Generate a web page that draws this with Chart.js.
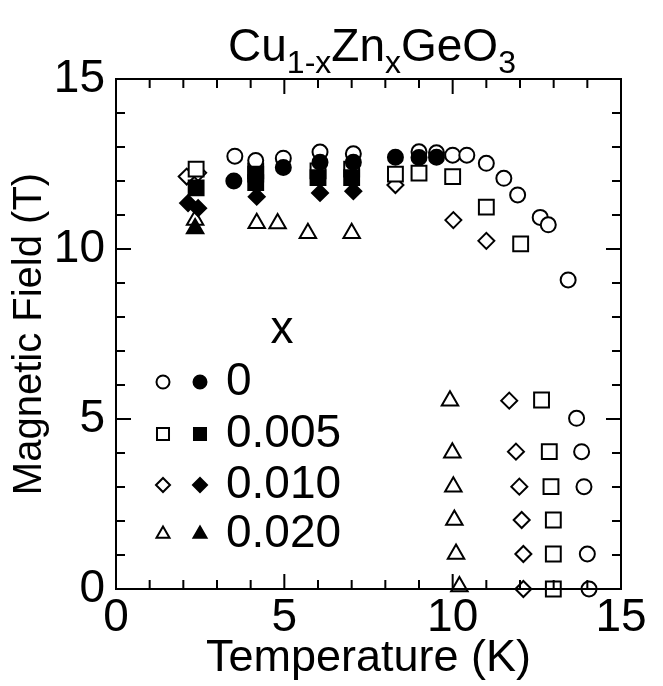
<!DOCTYPE html>
<html>
<head>
<meta charset="utf-8">
<script src="https://cdn.jsdelivr.net/npm/chart.js@4.4.1/dist/chart.umd.min.js"></script>
<style>
  html, body { margin: 0; padding: 0; background: #fff; }
</style>
</head>
<body>
<canvas id="myChart" width="663" height="686"></canvas>
<script>
const FONT = "'Liberation Sans', Arial, sans-serif";

// axis ranges / tick labels
const xTickStep = 5;
const yTickStep = 5;
const xRange = [0, 15];
const yRange = [0, 15];

// concentrations x (legend) and their symbols
const concentrations = ['0', '0.005', '0.010', '0.020'];
const symbols = ['circle', 'rect', 'rectRot', 'triangle'];

// [T (K), H (T)]
// x = 0
const openCircle = [[3.53,12.73],[4.15,12.6],[4.97,12.67],[6.06,12.85],[7.05,12.8],[9.0,12.86],[9.52,12.83],
  [10.0,12.76],[10.42,12.76],[11.0,12.52],[11.52,12.08],[11.93,11.59],[12.6,10.93],[12.84,10.71],[13.43,9.09],
  [13.68,5.02],[13.83,4.04],[13.9,3.01],[14.0,1.03],[14.05,0]];
const filledCircle = [[3.5,12.0],[4.97,12.4],[6.06,12.55],[7.05,12.55],[8.3,12.7],[9.0,12.69],[9.52,12.7]];
// x = 0.005
const openSquare = [[2.38,12.35],[4.15,12.3],[6.0,12.3],[7.0,12.35],[8.3,12.2],[9.0,12.23],[10.0,12.13],[11.0,11.23],
  [12.02,10.15],[12.64,5.56],[12.87,4.04],[12.92,3.01],[12.99,2.03],[12.99,1.03],[12.99,0]];
const filledSquare = [[2.38,11.8],[4.15,12.2],[4.15,11.95],[6.0,12.1],[7.0,12.1]];
// x = 0.010
const openDiamond = [[2.1,12.13],[2.44,12.24],[8.3,11.88],[10.02,10.85],[11.0,10.24],[11.68,5.54],[11.88,4.04],
  [11.98,3.01],[12.05,2.03],[12.1,1.03],[12.1,0]];
const filledDiamond = [[2.14,11.35],[2.44,11.2],[4.18,11.54],[6.06,11.65],[7.05,11.7]];
// x = 0.020
const openTriangle = [[2.35,10.85],[4.18,10.76],[4.8,10.75],[5.7,10.46],[7.0,10.46],[9.92,5.54],[9.99,4.01],
  [10.02,3.01],[10.05,2.03],[10.1,1.03],[10.2,0.07]];
const filledTriangle = [[2.35,10.6]];

const openSets = [openCircle, openSquare, openDiamond, openTriangle];
const filledSets = [filledCircle, filledSquare, filledDiamond, filledTriangle];
const radii = [7.5, 10.5, 8, 9.5];

const toXY = arr => arr.map(p => ({x: p[0], y: p[1]}));

const datasets = [];
symbols.forEach((s, i) => {
  datasets.push({
    label: 'x=' + concentrations[i] + ' filled',
    data: toXY(filledSets[i]),
    pointStyle: s, pointRadius: radii[i],
    pointBackgroundColor: '#000', pointBorderColor: '#000', pointBorderWidth: 2,
    clip: false,
    order: 0
  });
});
symbols.forEach((s, i) => {
  datasets.push({
    label: 'x=' + concentrations[i] + ' open',
    data: toXY(openSets[i]),
    pointStyle: s, pointRadius: radii[i],
    pointBackgroundColor: '#fff', pointBorderColor: '#000', pointBorderWidth: 2,
    clip: false,
    order: 1
  });
});

// frame with inward ticks on all four sides
const frame = {
  id: 'frame',
  afterDatasetsDraw(chart) {
    const {ctx, chartArea: a, scales: {x, y}} = chart;
    ctx.save();
    ctx.strokeStyle = '#000';
    ctx.lineWidth = 2;
    ctx.strokeRect(a.left, a.top, a.right - a.left, a.bottom - a.top);
    ctx.beginPath();
    for (let v = xRange[0]; v <= xRange[1]; v++) {
      const len = v % 5 === 0 ? 15 : 9;
      const px = x.getPixelForValue(v);
      ctx.moveTo(px, a.bottom); ctx.lineTo(px, a.bottom - len);
      ctx.moveTo(px, a.top); ctx.lineTo(px, a.top + len);
    }
    for (let v = yRange[0]; v <= yRange[1]; v++) {
      const len = v % 5 === 0 ? 15 : 9;
      const py = y.getPixelForValue(v);
      ctx.moveTo(a.left, py); ctx.lineTo(a.left + len, py);
      ctx.moveTo(a.right, py); ctx.lineTo(a.right - len, py);
    }
    ctx.stroke();
    ctx.restore();
  }
};

// title with subscripts
const formulaTitle = {
  id: 'formulaTitle',
  afterDraw(chart) {
    const ctx = chart.ctx;
    const parts = [['Cu', 0], ['1-x', 1], ['Zn', 0], ['x', 1], ['GeO', 0], ['3', 1]];
    ctx.save();
    ctx.fillStyle = '#000';
    ctx.textBaseline = 'alphabetic';
    const big = '46px ' + FONT, small = '32px ' + FONT;
    let w = 0;
    parts.forEach(p => { ctx.font = p[1] ? small : big; w += ctx.measureText(p[0]).width; });
    let cx = 372 - w / 2;
    parts.forEach(p => {
      ctx.font = p[1] ? small : big;
      ctx.fillText(p[0], cx, p[1] ? 73 : 61);
      cx += ctx.measureText(p[0]).width;
    });
    ctx.restore();
  }
};

// legend: open + filled symbol per concentration
const symbolLegend = {
  id: 'symbolLegend',
  afterDraw(chart) {
    const ctx = chart.ctx;
    const rowY = [382, 434, 485, 534];
    const legendR = [6.5, 8.5, 7, 7.5];
    ctx.save();
    ctx.fillStyle = '#000';
    ctx.font = '46px ' + FONT;
    ctx.textAlign = 'center';
    ctx.textBaseline = 'middle';
    ctx.fillText('x', 282, 330);
    ctx.textAlign = 'left';
    concentrations.forEach((c, i) => {
      const opts = {pointStyle: symbols[i], radius: legendR[i], rotation: 0, borderWidth: 2};
      ctx.lineWidth = 2;
      ctx.strokeStyle = '#000';
      ctx.fillStyle = '#fff';
      Chart.helpers.drawPoint(ctx, opts, 163, rowY[i]);
      ctx.fillStyle = '#000';
      Chart.helpers.drawPoint(ctx, opts, 200, rowY[i]);
      ctx.fillText(c, 226, rowY[i]);
    });
    ctx.restore();
  }
};

new Chart(document.getElementById('myChart').getContext('2d'), {
  type: 'scatter',
  data: {datasets},
  options: {
    responsive: false,
    animation: false,
    devicePixelRatio: 1,
    layout: {padding: {left: 0, top: 79, right: 42, bottom: 0}},
    plugins: {legend: {display: false}, tooltip: {enabled: false}},
    scales: {
      x: {
        type: 'linear', min: xRange[0], max: xRange[1],
        afterFit: s => { s.height = 97; },
        grid: {display: false, drawTicks: false},
        border: {display: false},
        ticks: {stepSize: xTickStep, color: '#000', padding: 2, maxRotation: 0, font: {family: FONT, size: 46}},
        title: {display: true, text: 'Temperature (K)', color: '#000', padding: {top: 0, bottom: 0}, font: {family: FONT, size: 45}}
      },
      y: {
        type: 'linear', min: yRange[0], max: yRange[1],
        afterFit: s => { s.width = 116; },
        grid: {display: false, drawTicks: false},
        border: {display: false},
        ticks: {stepSize: yTickStep, color: '#000', padding: 11, font: {family: FONT, size: 46}},
        title: {display: true, text: 'Magnetic Field (T)', color: '#000', padding: {top: 6, bottom: 0}, font: {family: FONT, size: 40}}
      }
    }
  },
  plugins: [frame, formulaTitle, symbolLegend]
});
</script>
</body>
</html>
